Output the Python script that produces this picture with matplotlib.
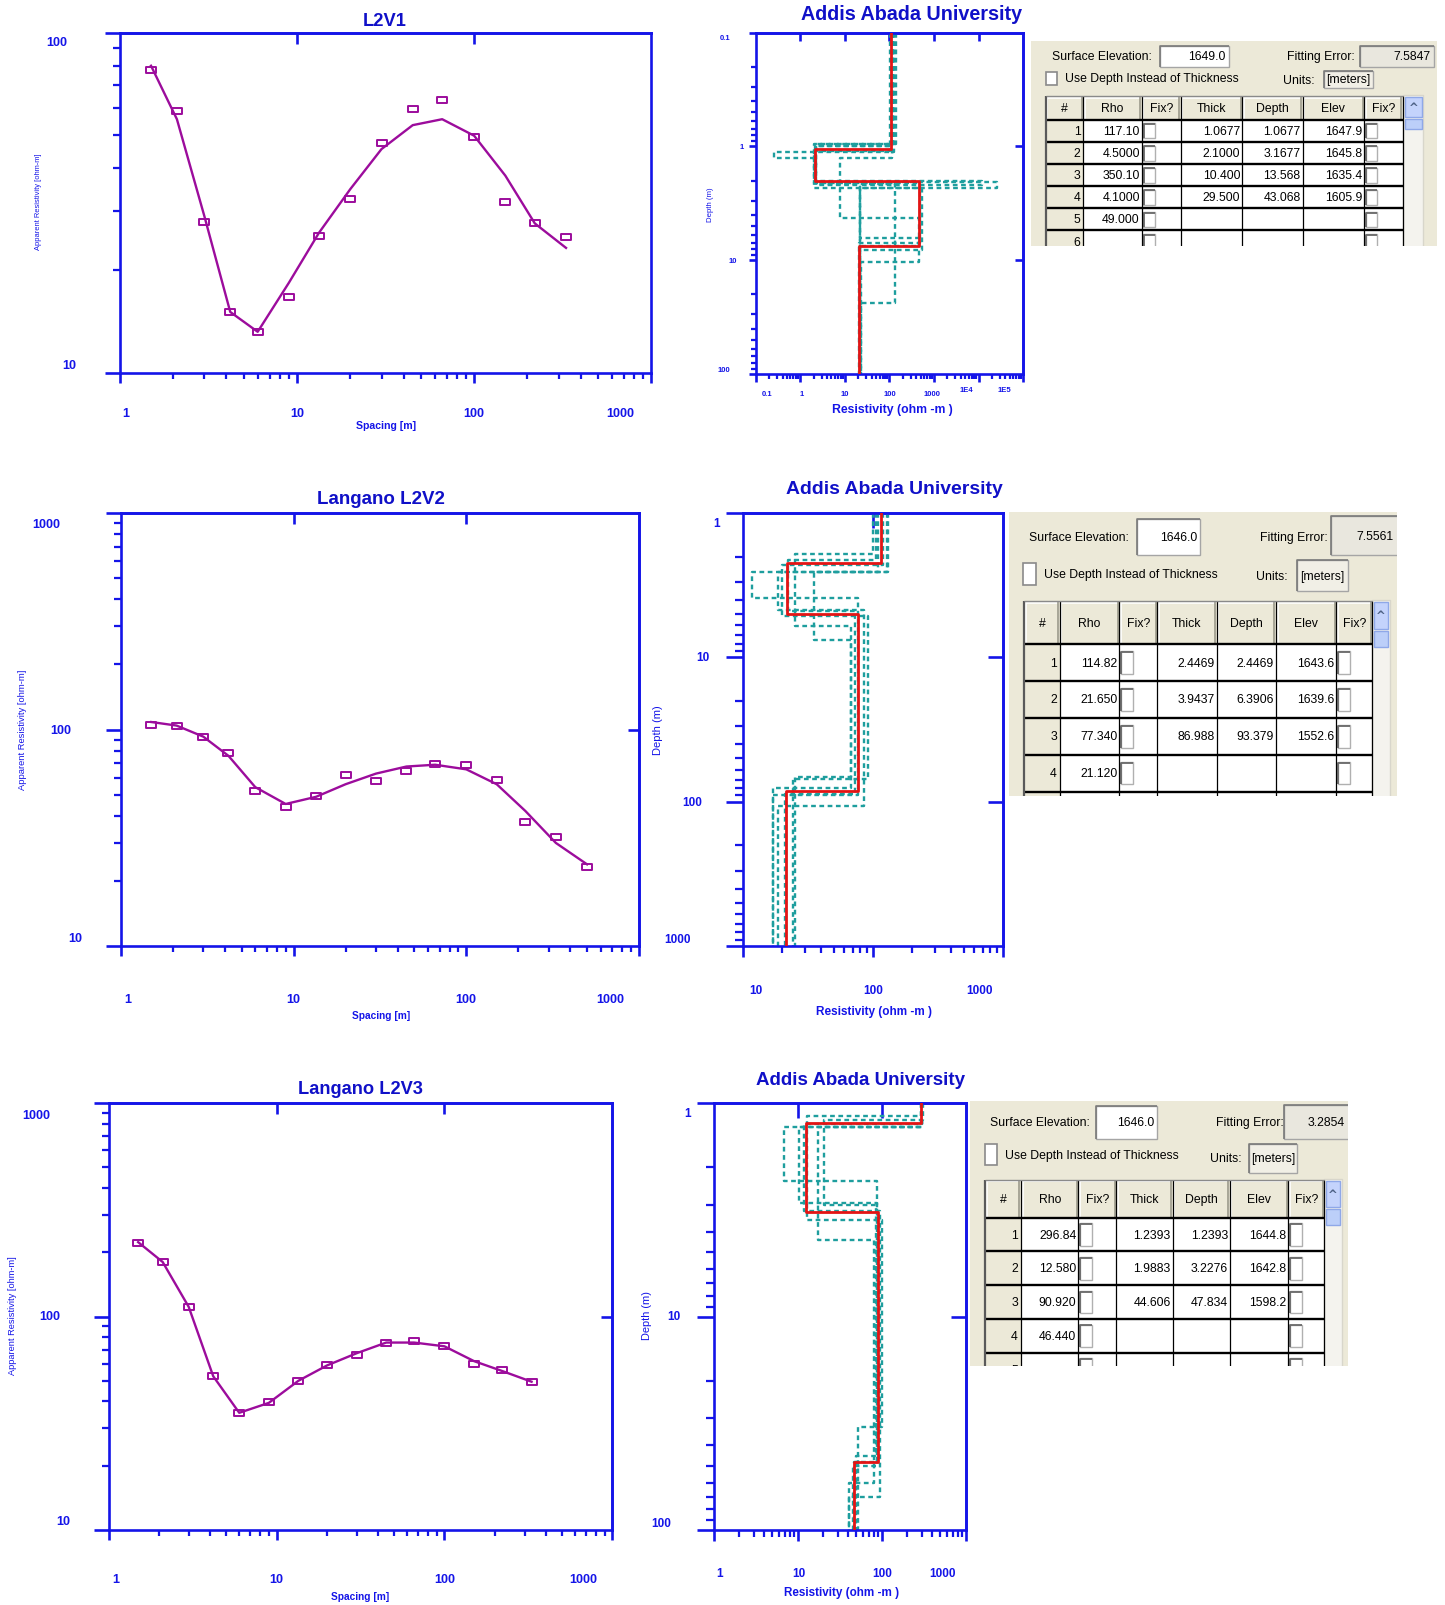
import numpy as np
import matplotlib
matplotlib.use('Agg')
import matplotlib.pyplot as plt
from matplotlib import font_manager
from matplotlib.path import Path
from matplotlib.patches import Rectangle
from matplotlib.ticker import FixedLocator, LogLocator, NullFormatter, NullLocator
from matplotlib.transforms import blended_transform_factory, offset_copy

# ---------------------------------------------------------------- data
spacing_l2v1 = [1.5, 2.1, 3.0, 4.2, 6.0, 9.0, 13.3, 20, 30, 45, 66, 100, 150, 220, 330]
obs_l2v1 = [77.5, 58.7, 27.7, 15.1, 13.2, 16.7, 25.3, 32.5, 47.3, 59.6, 63.4, 49.5, 31.9, 27.5, 25.1]
fit_l2v1 = [80.0, 55.7, 28.9, 15.1, 13.2, 18.4, 25.8, 34.7, 45.5, 53.5, 55.7, 49.8, 38.0, 27.5, 23.3]

spacing_l2v2 = [1.5, 2.1, 3.0, 4.2, 6.0, 9.0, 13.5, 20, 30, 45, 66, 100, 150, 220, 330, 500]
obs_l2v2 = [105, 103.6, 92.9, 77.8, 52.3, 44.1, 49.6, 61.7, 58.1, 64.4, 69.7, 68.9, 58.3, 37.3, 32.1, 23.3]
fit_l2v2 = [108.5, 104.5, 92.9, 75.7, 54.3, 45.4, 49.0, 56.0, 62.7, 67.6, 68.9, 65.6, 56.0, 42.1, 30.0, 23.9]

spacing_l2v3 = [1.5, 2.1, 3.0, 4.2, 6.0, 9.0, 13.5, 20, 30, 45, 66, 100, 150, 220, 330]
obs_l2v3 = [222, 179.5, 110.7, 52.5, 35.4, 39.8, 49.9, 59.0, 66.3, 75.5, 76.6, 73.0, 60.0, 56.4, 49.5]
fit_l2v3 = [223, 180, 111, 52.5, 35.4, 39.4, 50.0, 59.0, 67.3, 75.5, 75.5, 72.5, 61.8, 55.6, 49.5]

# layered models (layer resistivities, depths of layer bottoms)
model_rho_1 = [109, 2.1, 457, 20.5]
model_bot_1 = [1.06, 2.0, 7.5]
equiv_rho_1 = [[125, 0.26, 2.3, 2.6e4, 22], [118, 2.1, 1.2e4, 22], [112, 7.7, 460, 22],
               [118, 2.2, 131, 23], [115, 2.2, 22, 470, 23], [105, 2.0, 540, 22],
               [140, 2.0, 480, 21]]
equiv_bot_1 = [[1.12, 1.26, 2.05, 2.32], [0.96, 2.0, 2.2], [1.26, 4.26, 7.5],
               [1.0, 2.15, 24], [1.0, 2.2, 6.4, 10.3], [1.1, 2.3, 8.1],
               [0.96, 2.1, 7.0]]

model_rho_2 = [116, 21.7, 76.8, 21.2]
model_bot_2 = [2.22, 4.97, 84]
equiv_rho_2 = [[128, 11.6, 77, 17], [100, 25, 68, 25], [130, 18.6, 85, 18.6],
               [110, 35, 68, 17], [120, 20, 91, 24], [105, 22, 72, 21]]
equiv_bot_2 = [[2.56, 3.9, 90], [1.91, 6.1, 67], [2.56, 4.7, 107],
               [2.56, 7.6, 80], [2.3, 5.2, 69], [2.1, 4.8, 88]]

model_rho_3 = [296.84, 12.58, 90.92, 46.44]
model_bot_3 = [1.2393, 3.2276, 47.834]
equiv_rho_3 = [[300, 6.9, 89, 45], [290, 10.4, 89, 47], [305, 17.3, 80, 41],
               [295, 13, 100, 52], [300, 12, 95, 41], [310, 20.8, 85, 49]]
equiv_bot_3 = [[1.29, 2.33, 50], [1.29, 2.94, 48], [1.29, 4.37, 60],
               [1.15, 3.52, 33], [1.25, 3.2, 70], [1.2, 3.0, 45]]

# tables
t1_elev0, t1_fit = '1649.0', '7.5847'
t1_rho = ['117.10', '4.5000', '350.10', '4.1000', '49.000']
t1_thick = ['1.0677', '2.1000', '10.400', '29.500']
t1_depth = ['1.0677', '3.1677', '13.568', '43.068']
t1_elev = ['1647.9', '1645.8', '1635.4', '1605.9']

t2_elev0, t2_fit = '1646.0', '7.5561'
t2_rho = ['114.82', '21.650', '77.340', '21.120']
t2_thick = ['2.4469', '3.9437', '86.988']
t2_depth = ['2.4469', '6.3906', '93.379']
t2_elev = ['1643.6', '1639.6', '1552.6']

t3_elev0, t3_fit = '1646.0', '3.2854'
t3_rho = ['296.84', '12.580', '90.920', '46.440']
t3_thick = ['1.2393', '1.9883', '44.606']
t3_depth = ['1.2393', '3.2276', '47.834']
t3_elev = ['1644.8', '1642.8', '1598.2']

# ---------------------------------------------------------------- style
W, H = 1445, 1606
S = W / 1411.0
BLUE = '#1414E8'
TBLUE = '#1010C8'
MAG = '#9C0C9C'
RED = '#E41414'
TEAL = '#1E9E9E'
BEIGE = '#ECE9D8'


def pick_font(cands):
    for c in cands:
        try:
            font_manager.findfont(font_manager.FontProperties(family=c), fallback_to_default=False)
            return c
        except Exception:
            pass
    return 'DejaVu Sans'


NARROW = pick_font(['Liberation Sans Narrow', 'DejaVu Sans Condensed', 'Liberation Sans'])

fig = plt.figure(figsize=(W / 100, H / 100), dpi=100)
fig.patch.set_facecolor('white')
fits = []


def rect(x0, y0, x1, y1):
    return [x0 * S / W, 1 - y1 * S / H, (x1 - x0) * S / W, (y1 - y0) * S / H]


def ftext(x, y, s, width=None, rot=0, size=10, weight='bold', color=BLUE):
    t = fig.text(x * S / W, 1 - y * S / H, s, rotation=rot, fontsize=size, color=color,
                 fontweight=weight, family=NARROW, ha='center', va='center')
    if width:
        fits.append((t, width, rot == 90))
    return t


BOXM = Path([(-1, -0.62), (1, -0.62), (1, 0.62), (-1, 0.62), (-1, -0.62)],
            [Path.MOVETO, Path.LINETO, Path.LINETO, Path.LINETO, Path.CLOSEPOLY])


def style_axes(ax, xmaj, ymaj, top_ticks, right_ticks, lw, xlen, ylen, inlen):
    for sp in ax.spines.values():
        sp.set_color(BLUE)
        sp.set_linewidth(lw)
    ax.xaxis.set_major_locator(FixedLocator(xmaj))
    ax.yaxis.set_major_locator(FixedLocator(ymaj))
    ax.xaxis.set_minor_locator(LogLocator(base=10, subs=np.arange(2, 10), numticks=30))
    ax.yaxis.set_minor_locator(LogLocator(base=10, subs=np.arange(2, 10), numticks=30))
    for a in (ax.xaxis, ax.yaxis):
        a.set_major_formatter(NullFormatter())
        a.set_minor_formatter(NullFormatter())
    ax.tick_params(axis='x', which='major', direction='out', length=xlen[0], width=lw,
                   color=BLUE, top=False, bottom=True)
    ax.tick_params(axis='x', which='minor', direction='out', length=xlen[1], width=lw * 0.85,
                   color=BLUE, top=False, bottom=True)
    ax.tick_params(axis='y', which='major', direction='out', length=ylen[0], width=lw,
                   color=BLUE, right=False, left=True)
    ax.tick_params(axis='y', which='minor', direction='out', length=ylen[1], width=lw * 0.85,
                   color=BLUE, right=False, left=True)
    if top_ticks:
        sx = ax.secondary_xaxis('top')
        sx.set_xticks(top_ticks)
        sx.xaxis.set_minor_locator(NullLocator())
        sx.xaxis.set_major_formatter(NullFormatter())
        sx.tick_params(axis='x', which='major', direction='in', length=inlen, width=lw,
                       color=BLUE, labeltop=False)
        for sp in sx.spines.values():
            sp.set_color(BLUE)
            sp.set_linewidth(lw)
    if right_ticks:
        sy = ax.secondary_yaxis('right')
        sy.set_yticks(right_ticks)
        sy.yaxis.set_minor_locator(NullLocator())
        sy.yaxis.set_major_formatter(NullFormatter())
        sy.tick_params(axis='y', which='major', direction='in', length=inlen, width=lw,
                       color=BLUE, labelright=False)
        for sp in sy.spines.values():
            sp.set_color(BLUE)
            sp.set_linewidth(lw)


def xlabels(ax, ticks, labels, dxs, dys, size):
    tr = blended_transform_factory(ax.transData, ax.transAxes)
    for t, l, dx, dy in zip(ticks, labels, dxs, dys):
        ax.text(t, 0, l, transform=offset_copy(tr, fig=fig, x=dx * S, y=-dy * S, units='dots'),
                ha='center', va='center', fontsize=size, color=BLUE, fontweight='bold',
                family=NARROW, clip_on=False)


def ylabels(ax, ticks, labels, offs, size):
    tr = blended_transform_factory(ax.transAxes, ax.transData)
    for t, l, (dx, dy) in zip(ticks, labels, offs):
        ax.text(0, t, l, transform=offset_copy(tr, fig=fig, x=dx * S, y=-dy * S, units='dots'),
                ha='center', va='center', fontsize=size, color=BLUE, fontweight='bold',
                family=NARROW, clip_on=False)


def sounding(box, spacing, obs, fit, ylim, ymaj, right_ticks, xdx, xdy, yoffs):
    ax = fig.add_axes(rect(*box))
    ax.set_xscale('log')
    ax.set_yscale('log')
    ax.set_xlim(1, 1000)
    ax.set_ylim(*ylim)
    ax.plot(spacing, fit, color=MAG, lw=1.7, zorder=3)
    ax.plot(spacing, obs, ls='none', marker=BOXM, ms=6.5, mfc='none', mec=MAG, mew=1.4, zorder=4)
    style_axes(ax, [1, 10, 100, 1000], ymaj, [10, 100], right_ticks, 1.9, (7.5, 4), (11, 5), 8)
    xlabels(ax, [1, 10, 100, 1000], ['1', '10', '100', '1000'], xdx, [xdy] * 4, 9)
    ylabels(ax, ymaj, [str(int(v)) for v in ymaj], yoffs, 9)
    return ax


def steps(rho, bot, top, bottom):
    d = np.concatenate([[top], bot, [bottom]])
    x = np.repeat(np.asarray(rho, float), 2)
    y = np.column_stack([d[:-1], d[1:]]).ravel()
    return x, y


def depth_panel(box, xlim, ylim, rho, bot, erho, ebot, xmaj, top_ticks, ymaj, right_ticks,
                lw, xlen, ylen, inlen):
    ax = fig.add_axes(rect(*box))
    ax.set_xscale('log')
    ax.set_yscale('log')
    ax.set_xlim(*xlim)
    ax.set_ylim(ylim[1], ylim[0])
    for r, b in zip(erho, ebot):
        x, y = steps(r, b, ylim[0], ylim[1])
        ax.plot(x, y, color=TEAL, lw=1.7, ls=(0, (2.0, 1.5)), zorder=2)
    x, y = steps(rho, bot, ylim[0], ylim[1])
    ax.plot(x, y, color=RED, lw=2.0, zorder=3)
    style_axes(ax, xmaj, ymaj, top_ticks, right_ticks, lw, xlen, ylen, inlen)
    return ax


# ---------------------------------------------------------------- sounding curves
sounding((117, 33, 636, 365), spacing_l2v1, obs_l2v1, fit_l2v1, (10, 100), [10, 100], [],
         [6, 0, 0, -30], 39, [(-49, -8), (-62, 9)])
sounding((118, 502, 624, 925), spacing_l2v2, obs_l2v2, fit_l2v2, (10, 1000), [10, 100, 1000], [100],
         [7, 0, -1, -28], 51, [(-45, -8), (-59, 0), (-73, 11)])
sounding((106, 1078, 598, 1495), spacing_l2v3, obs_l2v3, fit_l2v3, (10, 1000), [10, 100, 1000], [100],
         [7, 0, 0, -28], 48, [(-44, -9), (-57, 0), (-71, 12)])

ftext(376, 21, 'L2V1', width=43, size=12, color=TBLUE)
ftext(372, 488, 'Langano L2V2', width=125, size=12, color=TBLUE)
ftext(352, 1064, 'Langano L2V3', width=122, size=12, color=TBLUE)
ftext(377, 416, 'Spacing [m]', width=60, size=6)
ftext(372, 992, 'Spacing [m]', width=58, size=6)
ftext(352, 1559, 'Spacing [m]', width=58, size=6)
ftext(38, 197, 'Apparent Resistivity [ohm-m]', width=95, rot=90, size=6, weight='normal')
ftext(22, 713, 'Apparent Resistivity [ohm-m]', width=118, rot=90, size=6, weight='normal')
ftext(12, 1285, 'Apparent Resistivity [ohm-m]', width=117, rot=90, size=6, weight='normal')

# ---------------------------------------------------------------- depth models
ax2 = depth_panel((738, 33, 999, 366), (0.1, 1e5), (0.1, 100), model_rho_1, model_bot_1,
                  equiv_rho_1, equiv_bot_1, [0.1, 1, 10, 100, 1000, 1e4, 1e5],
                  [1, 10, 100, 1000, 1e4], [0.1, 1, 10, 100], [1, 10], 1.9, (6, 3.5), (5, 3.5), 6)
xlabels(ax2, [0.1, 1, 10, 100, 1000, 1e4, 1e5], ['0.1', '1', '10', '100', '1000', '1E4', '1E5'],
        [11, 1, 0, 0, -2, -12, -18], [19, 19, 19, 19, 19, 15, 15], 5.5)
ylabels(ax2, [0.1, 1, 10, 100], ['0.1', '1', '10', '100'], [(-30, 5), (-14, 0), (-22, 0), (-31, -4)], 5.5)

ax4 = depth_panel((726, 502, 979, 925), (10, 1000), (1, 1000), model_rho_2, model_bot_2,
                  equiv_rho_2, equiv_bot_2, [10, 100, 1000], [100], [1, 10, 100, 1000], [10, 100],
                  1.9, (8, 5), (12, 6), 11)
xlabels(ax4, [10, 100, 1000], ['10', '100', '1000'], [12, 0, -23], [43, 43, 43], 8.5)
ylabels(ax4, [1, 10, 100, 1000], ['1', '10', '100', '1000'], [(-26, 10), (-40, 0), (-50, 0), (-64, -7)], 8.5)

ax6 = depth_panel((697, 1078, 943, 1495), (1, 1000), (1, 100), model_rho_3, model_bot_3,
                  equiv_rho_3, equiv_bot_3, [1, 10, 100, 1000], [10, 100], [1, 10, 100], [10],
                  1.9, (8, 5), (12, 6), 11)
xlabels(ax6, [1, 10, 100, 1000], ['1', '10', '100', '1000'], [6, 1, 0, -23], [42] * 4, 8.5)
ylabels(ax6, [1, 10, 100], ['1', '10', '100'], [(-26, 10), (-39, 0), (-51, -7)], 8.5)

for (x, y, w) in [(890, 14, 216), (873, 478, 212), (840, 1055, 206)]:
    ftext(x, y, 'Addis Abada University', width=w, size=14, color=TBLUE)
ftext(871, 400, 'Resistivity (ohm -m )', width=118, size=8)
ftext(853, 988, 'Resistivity (ohm -m )', width=114, size=8)
ftext(822, 1556, 'Resistivity (ohm -m )', width=112, size=8)
ftext(694, 200, 'Depth (m)', width=34, rot=90, size=6, weight='normal')
ftext(643, 713, 'Depth (m)', width=49, rot=90, size=6, weight='normal')
ftext(632, 1285, 'Depth (m)', width=48, rot=90, size=6, weight='normal')

# ---------------------------------------------------------------- tables
renderer = fig.canvas.get_renderer()
probe = fig.text(0, 0, 'Surface Elevation:', fontsize=10, family=NARROW)
TFS = 10 * 98 * S / probe.get_window_extent(renderer).width
probe.remove()

TAB1 = dict(panel=(1007, 41, 1403, 241), lab_x=1027, lab_y=56, elev_box=(1133, 46, 1200, 66),
            fe_x=1257, fe_box=(1328, 46, 1400, 66), cb=(1021, 71, 1032, 84), use_x=1040, use_y=77,
            units_x=1253, units_y=79, units_box=(1293, 70, 1341, 87), grid_top=95, header_bot=118,
            cols=[1021, 1058, 1115, 1153, 1213, 1272, 1332, 1370], scroll_r=1390, row_h=21.6, nrows=6)
TAB2 = dict(panel=(985, 501, 1364, 778), lab_x=1005, lab_y=525, elev_box=(1110, 508, 1172, 543),
            fe_x=1230, fe_box=(1300, 505, 1368, 543), cb=(999, 551, 1012, 572), use_x=1019, use_y=561,
            units_x=1226, units_y=563, units_box=(1266, 548, 1316, 578), grid_top=588, header_bot=630,
            cols=[1000, 1035, 1093, 1130, 1188, 1246, 1305, 1340], scroll_r=1357, row_h=36, nrows=5)
TAB3 = dict(panel=(947, 1076, 1316, 1335), lab_x=967, lab_y=1097, elev_box=(1070, 1081, 1130, 1113),
            fe_x=1187, fe_box=(1254, 1080, 1318, 1113), cb=(962, 1118, 974, 1139), use_x=981, use_y=1129,
            units_x=1182, units_y=1132, units_box=(1220, 1118, 1266, 1146), grid_top=1153, header_bot=1190,
            cols=[962, 997, 1053, 1090, 1145, 1201, 1258, 1293], scroll_r=1310, row_h=33, nrows=5)


def draw_table(sp, rho, thick, depth, elev, elev0, fiterr):
    x0, y0, x1, y1 = sp['panel']
    tax = fig.add_axes(rect(x0, y0, x1, y1))
    tax.set_xlim(x0, x1)
    tax.set_ylim(y1, y0)
    tax.axis('off')

    def R(a, b, c, d, **kw):
        tax.add_patch(Rectangle((a, b), c - a, d - b, **kw))

    def T(x, y, s, ha='left'):
        tax.text(x, y, s, ha=ha, va='center', fontsize=TFS, family=NARROW, color='black', clip_on=True)

    def L(xs, ys, **kw):
        tax.plot(xs, ys, solid_capstyle='butt', **kw)

    R(x0, y0, x1, y1, fc=BEIGE, ec='none')
    T(sp['lab_x'], sp['lab_y'], 'Surface Elevation:')
    a, b, c, d = sp['elev_box']
    R(a, b, c, d, fc='white', ec='#A5A5A5', lw=1)
    L([a, a, c], [d, b, b], color='#7A7A7A', lw=1.2)
    T(c - 3, (b + d) / 2, elev0, ha='right')
    T(sp['fe_x'], sp['lab_y'], 'Fitting Error:')
    a, b, c, d = sp['fe_box']
    R(a, b, c, d, fc='#E9E7DE', ec='#A5A5A5', lw=1)
    L([a, a, c], [d, b, b], color='#7A7A7A', lw=1.2)
    T(min(c, x1) - 3, (b + d) / 2, fiterr, ha='right')
    a, b, c, d = sp['cb']
    R(a, b, c, d, fc='white', ec='#8A8A8A', lw=1.2)
    T(sp['use_x'], sp['use_y'], 'Use Depth Instead of Thickness')
    T(sp['units_x'], sp['units_y'], 'Units:')
    a, b, c, d = sp['units_box']
    R(a, b, c, d, fc='#F1EFE6', ec='#A5A5A5', lw=1)
    L([a, a, c], [d, b, b], color='#7A7A7A', lw=1.2)
    T((a + c) / 2, (b + d) / 2, '[meters]', ha='center')

    cols = sp['cols']
    gt, hb, rh = sp['grid_top'], sp['header_bot'], sp['row_h']
    yb = y1 + 10
    R(cols[0], gt, cols[-1], yb, fc='white', ec='none')
    R(cols[0], gt, cols[-1], hb, fc=BEIGE, ec='none')
    R(cols[0], hb, cols[1], yb, fc=BEIGE, ec='none')
    headers = ['#', 'Rho', 'Fix?', 'Thick', 'Depth', 'Elev', 'Fix?']
    for i, h in enumerate(headers):
        L([cols[i] + 1.5, cols[i] + 1.5, cols[i + 1] - 1], [hb - 1, gt + 1.5, gt + 1.5], color='white', lw=1.2)
        L([cols[i + 1] - 1.5, cols[i + 1] - 1.5], [gt + 1, hb - 1], color='#9C9A8C', lw=1.2)
        T((cols[i] + cols[i + 1]) / 2, (gt + hb) / 2, h, ha='center')
    for r in range(sp['nrows']):
        top = hb + r * rh
        mid = top + rh / 2
        T(cols[1] - 3, mid, str(r + 1), ha='right')
        if r < len(rho):
            T(cols[2] - 2, mid, rho[r], ha='right')
        if r < len(thick):
            T(cols[4] - 2, mid, thick[r], ha='right')
            T(cols[5] - 2, mid, depth[r], ha='right')
            T(cols[6] - 2, mid, elev[r], ha='right')
        hh = min(rh - 7, 22)
        for c in (2, 6):
            R(cols[c] + 1.5, mid - hh / 2, cols[c] + 13, mid + hh / 2, fc='white', ec='#B0B0B0', lw=1)
            L([cols[c] + 2, cols[c] + 2, cols[c] + 13], [mid + hh / 2, mid - hh / 2 + 0.6, mid - hh / 2 + 0.6],
              color='#6A6A6A', lw=1.3)
    for r in range(sp['nrows'] + 1):
        yy = hb + r * rh
        L([cols[0], cols[-1]], [yy, yy], color='black', lw=1.7)
    for c in cols[1:]:
        L([c, c], [gt, yb], color='black', lw=0.9)
    L([cols[0], cols[0]], [gt, yb], color='#5A5A5A', lw=1.6)
    L([cols[0], cols[-1]], [gt, gt], color='#8A8A8A', lw=1.0)
    # scroll bar
    sr = sp['scroll_r']
    R(cols[-1], gt - 1, sr, yb, fc='#F4F3EE', ec='#D8D6CB', lw=1)
    bh = min(hb - gt - 4, 26)
    R(cols[-1] + 1.5, gt + 1, sr - 1.5, gt + 1 + bh, fc='#C4D3FC', ec='#8FA8E8', lw=1)
    tax.text((cols[-1] + sr) / 2, gt + 1 + bh / 2, '^', ha='center', va='center', fontsize=TFS * 0.95,
             fontweight='bold', color='#4D6185', family='DejaVu Sans', clip_on=True)
    R(cols[-1] + 1.5, gt + 3 + bh, sr - 1.5, gt + 3 + bh + rh * 0.45, fc='#BCCFF9', ec='#8FA8E8', lw=1)


draw_table(TAB1, t1_rho, t1_thick, t1_depth, t1_elev, t1_elev0, t1_fit)
draw_table(TAB2, t2_rho, t2_thick, t2_depth, t2_elev, t2_elev0, t2_fit)
draw_table(TAB3, t3_rho, t3_thick, t3_depth, t3_elev, t3_elev0, t3_fit)

# ---------------------------------------------------------------- fit text widths
for t, w, vert in fits:
    bb = t.get_window_extent(renderer)
    cur = bb.height if vert else bb.width
    if cur > 0:
        t.set_fontsize(t.get_fontsize() * w * S / cur)

fig.savefig('out.png', dpi=100, facecolor='white')
